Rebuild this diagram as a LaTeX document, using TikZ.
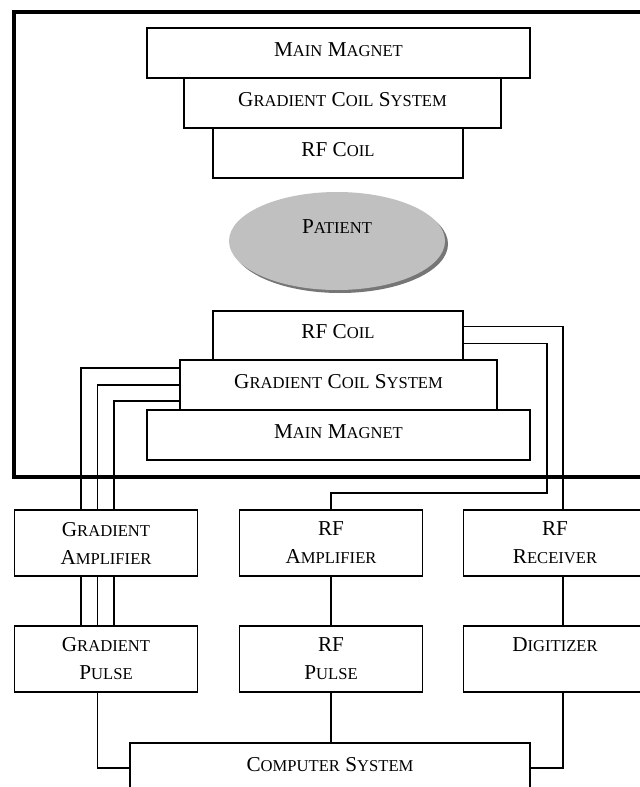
\documentclass[tikz,border=0pt]{standalone}
\usepackage{fontspec}
\setmainfont{Liberation Serif}
\usetikzlibrary{calc}
\usetikzlibrary{shapes.geometric, shadows}
\definecolor{patientgray}{RGB}{192,192,192}
\definecolor{shadowgray}{RGB}{118,118,118}
\tikzstyle{unitbox}=[draw=black,line width=0.6pt,inner sep=0pt,text height=7pt,text depth=4pt]
\tikzstyle{twobox}=[draw=black,line width=0.6pt,inner sep=0pt,align=center,minimum width=91.7pt,minimum height=33pt]
\tikzstyle{wire}=[draw=black,line width=0.6pt]
\tikzstyle{frameline}=[draw=black,line width=1.8pt]
\newcommand{\scw}[2]{#1{\fontsize{8.3}{14}\selectfont #2}}

\begin{document}
\begin{tikzpicture}[x=0.5pt,y=-0.5pt,every node/.style={font=\fontsize{10.6}{14}\selectfont}]
  \useasboundingbox (0,0) rectangle (640,787);
  \clip (0,0) rectangle (640,787);

  \draw[frameline] (14,11.7) rectangle (660,476.7);

  % scanner, top half
  \node[unitbox,minimum width=191.5pt,minimum height=25pt] (mmtop) at (338.5,53) {\scw{M}{AIN} \scw{M}{AGNET}};
  \node[unitbox,minimum width=158.5pt,minimum height=25pt] (gctop) at (342.5,103) {\scw{G}{RADIENT} \scw{C}{OIL} \scw{S}{YSTEM}};
  \node[unitbox,minimum width=125pt,minimum height=25pt] (rftop) at (338,153) {RF \scw{C}{OIL}};

  \node[ellipse,fill=patientgray,inner sep=0pt,minimum width=108pt,minimum height=49pt,
        text height=7pt,text depth=15pt,
        drop shadow={shadow xshift=1.5pt,shadow yshift=-1.5pt,fill=shadowgray,opacity=1}]
        (patient) at (337,241) {\scw{P}{ATIENT}};

  % scanner, bottom half
  \node[unitbox,minimum width=125pt,minimum height=24.5pt] (rfbot) at (338,335.5) {RF \scw{C}{OIL}};
  \node[unitbox,minimum width=158.5pt,minimum height=25pt] (gcbot) at (338.5,385) {\scw{G}{RADIENT} \scw{C}{OIL} \scw{S}{YSTEM}};
  \node[unitbox,minimum width=191.5pt,minimum height=25pt] (mmbot) at (338.5,435) {\scw{M}{AIN} \scw{M}{AGNET}};

  % electronics
  \node[twobox] (gamp) at (106,543) {\scw{G}{RADIENT}\\\scw{A}{MPLIFIER}};
  \node[twobox] (rfamp) at (331,543) {RF\\\scw{A}{MPLIFIER}};
  \node[twobox] (rfrec) at (555,543) {RF\\\scw{R}{ECEIVER}};
  \node[twobox] (gpulse) at (106,659) {\scw{G}{RADIENT}\\\scw{P}{ULSE}};
  \node[twobox] (rfpulse) at (331,659) {RF\\\scw{P}{ULSE}};
  \node[twobox] (digit) at (555,659) {\scw{D}{IGITIZER}\\\mbox{}};
  \node[unitbox,minimum width=200pt,minimum height=25pt] (comp) at (330,768) {\scw{C}{OMPUTER} \scw{S}{YSTEM}};

  \coordinate (rfbend) at (547,493);

  \foreach \dy/\dx in {-17/-25, 0/-8.5, 16/8} {
    \draw[wire] ($(gcbot.west)+(0,\dy)$) -| ($(gamp.north)+(\dx,0)$);
    \draw[wire] ($(gamp.south)+(\dx,0)$) -- ($(gpulse.north)+(\dx,0)$);
  }
  \draw[wire] ($(gpulse.south)+(-8.5,0)$) |- (comp.west);

  \draw[wire] ($(rfbot.east)+(0,-9)$) -| ($(rfrec.north)+(8,0)$);
  \draw[wire] ($(rfbot.east)+(0,8)$) -| (rfbend) -| (rfamp.north);
  \draw[wire] (rfamp.south) -- (rfpulse.north);
  \draw[wire] (rfpulse.south) -- (rfpulse.south |- comp.north);
  \draw[wire] ($(rfrec.south)+(8,0)$) -- ($(digit.north)+(8,0)$);
  \draw[wire] ($(digit.south)+(8,0)$) |- (comp.east);
\end{tikzpicture}
\end{document}
